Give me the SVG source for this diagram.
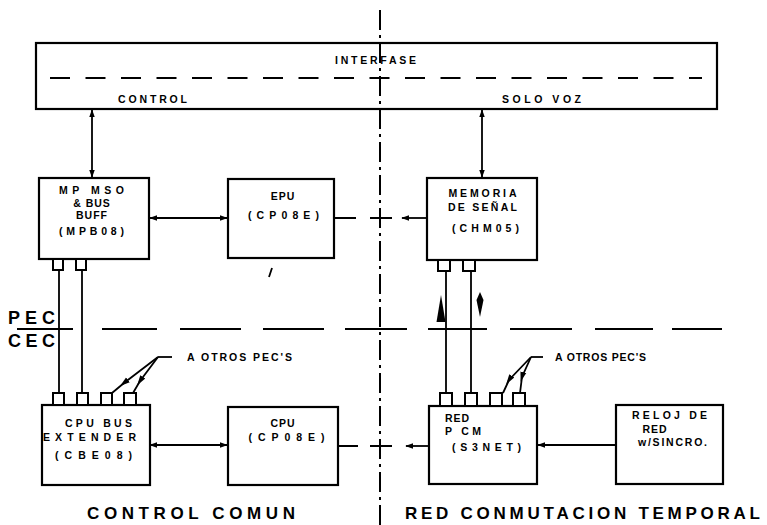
<svg xmlns="http://www.w3.org/2000/svg" width="767" height="525" viewBox="0 0 767 525">
<defs>
<marker id="ah" viewBox="0 0 10 10" refX="9" refY="5" markerWidth="8" markerHeight="8" markerUnits="userSpaceOnUse" orient="auto-start-reverse">
<path d="M0,1.5 L10,5 L0,8.5 Z" fill="#000"/>
</marker>
<marker id="am" viewBox="0 0 10 10" refX="5" refY="5" markerWidth="10" markerHeight="10" markerUnits="userSpaceOnUse" orient="auto">
<path d="M0,2 L10,5 L0,8 Z" fill="#000"/>
</marker>
<style>
.box{fill:#fff;stroke:#000;stroke-width:2.2}
.port{fill:#fff;stroke:#000;stroke-width:2}
.ln{fill:none;stroke:#000;stroke-width:1.8}
.dd{fill:none;stroke:#000;stroke-width:2}
.t{font-family:"Liberation Sans",Arial,sans-serif;font-weight:bold;font-size:10.5px;fill:#000;letter-spacing:1px}
.tc{text-anchor:middle}
.big{font-family:"Liberation Sans",Arial,sans-serif;font-weight:bold;font-size:17px;fill:#000}
.pec{font-family:"Liberation Sans",Arial,sans-serif;font-weight:bold;font-size:18px;fill:#000}
</style>
</defs>
<rect width="767" height="525" fill="#fff"/>

<g id="interfase">
<rect class="box" x="36" y="43" width="681" height="66"/>
<line x1="50" y1="78" x2="702" y2="78" stroke="#000" stroke-width="2" stroke-dasharray="20 15.5"/>
<text class="t tc" x="376" y="64" textLength="82" lengthAdjust="spacing">INTERFASE</text>
<text class="t tc" x="153" y="103" textLength="70" lengthAdjust="spacing">CONTROL</text>
<text class="t tc" x="542" y="103" textLength="80" lengthAdjust="spacing">SOLO VOZ</text>
</g>

<g id="divisions">
<line x1="380" y1="10" x2="380" y2="525" stroke="#000" stroke-width="2" stroke-dasharray="20 5 3 5"/>
<path class="dd" d="M17,329 H73 M102,329 H157 M180,329 H241 M263,329 H324 M345,329 H407 M428,329 H487 M510,329 H572 M595,329 H653 M672,329 H722"/>
<text class="pec" x="8" y="324" textLength="47" lengthAdjust="spacing">PEC</text>
<text class="pec" x="8" y="347" textLength="47" lengthAdjust="spacing">CEC</text>
<text class="big" x="87" y="519" textLength="208" lengthAdjust="spacing">CONTROL  COMUN</text>
<text class="big" x="405" y="519" textLength="355" lengthAdjust="spacing">RED CONMUTACION TEMPORAL</text>
</g>

<g id="mp">
<rect class="box" x="39" y="178" width="110" height="81"/>
<rect class="port" x="53" y="259" width="10" height="11"/>
<rect class="port" x="76" y="259" width="10" height="11"/>
<text class="t tc" x="92" y="194" textLength="66" lengthAdjust="spacing">MP MSO</text>
<text class="t tc" x="92" y="207">&amp; BUS</text>
<text class="t tc" x="92" y="219">BUFF</text>
<text class="t tc" x="92" y="235" textLength="66" lengthAdjust="spacing">(MPB08)</text>
</g>

<g id="epu">
<rect class="box" x="228" y="179" width="106" height="79"/>
<text class="t tc" x="283" y="200">EPU</text>
<text class="t tc" x="284" y="219" textLength="72" lengthAdjust="spacing">(CP08E)</text>
</g>

<g id="memoria">
<rect class="box" x="427" y="178" width="110" height="82"/>
<rect class="port" x="438" y="260" width="12" height="11"/>
<rect class="port" x="463" y="260" width="12" height="11"/>
<text class="t tc" x="483" y="197" textLength="69" lengthAdjust="spacing">MEMORIA</text>
<text class="t tc" x="483" y="211" textLength="70" lengthAdjust="spacing">DE SEÑAL</text>
<text class="t tc" x="486" y="232" textLength="68" lengthAdjust="spacing">(CHM05)</text>
</g>

<g id="cbe">
<rect class="box" x="42" y="405" width="108" height="80"/>
<rect class="port" x="53" y="393" width="11" height="12"/>
<rect class="port" x="77" y="393" width="11" height="12"/>
<rect class="port" x="101" y="393" width="11" height="12"/>
<rect class="port" x="124" y="393" width="12" height="12"/>
<text class="t tc" x="99" y="427" textLength="68" lengthAdjust="spacing">CPU BUS</text>
<text class="t tc" x="90" y="441" textLength="94" lengthAdjust="spacing">EXTENDER</text>
<text class="t tc" x="94" y="459" textLength="78" lengthAdjust="spacing">(CBE08)</text>
</g>

<g id="cpu">
<rect class="box" x="228" y="407" width="110" height="78"/>
<text class="t tc" x="283" y="427">CPU</text>
<text class="t tc" x="287" y="441" textLength="77" lengthAdjust="spacing">(CP08E)</text>
</g>

<g id="redpcm">
<rect class="box" x="429" y="406" width="108" height="78"/>
<rect class="port" x="440" y="393" width="12" height="13"/>
<rect class="port" x="465" y="393" width="12" height="13"/>
<rect class="port" x="490" y="393" width="12" height="13"/>
<rect class="port" x="513" y="393" width="12" height="13"/>
<text class="t" x="445" y="422" textLength="25" lengthAdjust="spacing">RED</text>
<text class="t" x="445" y="435" textLength="37" lengthAdjust="spacing">P CM</text>
<text class="t" x="452" y="451" textLength="70" lengthAdjust="spacing">(S3NET)</text>
</g>

<g id="reloj">
<rect class="box" x="616" y="405" width="107" height="79"/>
<text class="t tc" x="670" y="419" textLength="76" lengthAdjust="spacing">RELOJ DE</text>
<text class="t tc" x="655" y="433">RED</text>
<text class="t tc" x="673" y="446" textLength="70" lengthAdjust="spacing">w/SINCRO.</text>
</g>

<g id="connectors">
<line class="ln" x1="92" y1="110" x2="92" y2="177" marker-start="url(#ah)" marker-end="url(#ah)"/>
<line class="ln" x1="482" y1="110" x2="482" y2="177" marker-start="url(#ah)" marker-end="url(#ah)"/>
<line class="ln" x1="150" y1="218" x2="227" y2="218" marker-start="url(#ah)" marker-end="url(#ah)"/>
<path class="ln" d="M334,218 H356 M370,218 H392"/>
<line class="ln" x1="427" y1="218" x2="402" y2="218" marker-end="url(#ah)"/>
<line class="ln" x1="150" y1="445" x2="227" y2="445" marker-start="url(#ah)" marker-end="url(#ah)"/>
<path class="ln" d="M338,446 H358 M370,446 H392"/>
<line class="ln" x1="429" y1="446" x2="406" y2="446" marker-end="url(#ah)"/>
<line class="ln" x1="616" y1="445" x2="538" y2="445" marker-end="url(#ah)"/>
<path class="ln" d="M59,270 V393 M82,270 V393 M446,271 V393 M471,271 V393"/>
<path d="M441,295 L436.5,322 L445.5,322 Z" fill="#000"/>
<path d="M480,292 L483.5,300 L480,317 L476.5,300 Z" fill="#000"/>
<path class="ln" d="M172,357 H158"/>
<path class="ln" d="M158,357 L124,383 L112,393" marker-mid="url(#am)"/>
<path class="ln" d="M158,357 L140,381 L133,393" marker-mid="url(#am)"/>
<path class="ln" d="M543,357 H531"/>
<path class="ln" d="M531,357 L509,380 L503,393" marker-mid="url(#am)"/>
<path class="ln" d="M531,357 L522,377 L520,393" marker-mid="url(#am)"/>
<path class="ln" d="M272,268 L269,277"/>
</g>

<g id="labels">
<text class="t" x="187" y="361" textLength="106" lengthAdjust="spacing">A OTROS PEC'S</text>
<text class="t" x="555" y="361" textLength="92" lengthAdjust="spacing">A OTROS PEC'S</text>
</g>
</svg>
